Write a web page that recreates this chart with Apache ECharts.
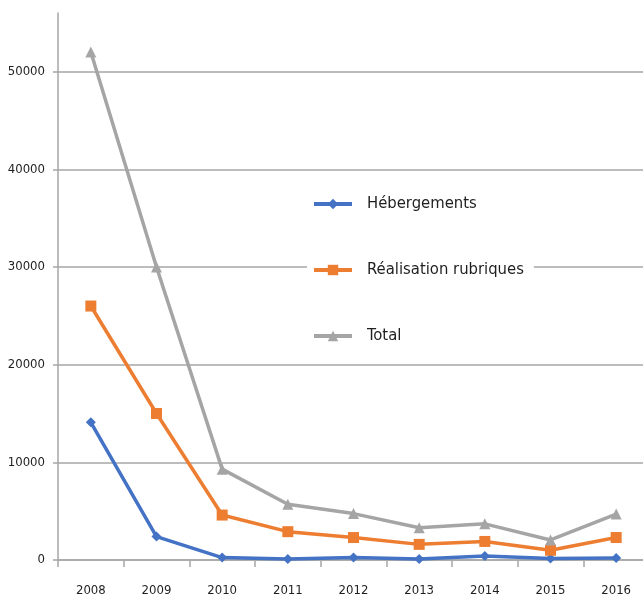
<!DOCTYPE html>
<html>
<head>
<meta charset="utf-8">
<style>
  html, body { margin: 0; padding: 0; background: #fff; }
  #chart { width: 643px; height: 599px; }
</style>
<script src="https://cdn.jsdelivr.net/npm/echarts@6/dist/echarts.min.js"></script>
</head>
<body>
<div id="chart"></div>
<script>
var years = ['2008', '2009', '2010', '2011', '2012', '2013', '2014', '2015', '2016'];
var hebergements = [14100, 2400, 250, 100, 250, 100, 400, 150, 200];
var realisation = [26000, 15000, 4600, 2900, 2300, 1600, 1900, 1000, 2300];
var total = [52000, 30000, 9300, 5700, 4750, 3300, 3700, 2050, 4700];

var font = "'DejaVu Sans Condensed', 'DejaVu Sans', sans-serif";
var ink = '#1f1f1f';
var rule = '#a6a6a6';

var chart = echarts.init(document.getElementById('chart'), null, { renderer: 'canvas' });
chart.setOption({
  animation: false,
  textStyle: { fontFamily: font },
  grid: { left: 58, right: -6, top: 13, bottom: 39, containLabel: false, outerBoundsMode: 'none' },
  legend: {
    orient: 'vertical',
    left: 307,
    top: 187,
    padding: [6, 10, 6, 5],
    backgroundColor: '#fff',
    itemWidth: 38,
    itemHeight: 13,
    itemGap: 44,
    lineStyle: { width: 4 },
    textStyle: { fontFamily: font, fontSize: 16.5, color: ink, lineHeight: 22, padding: [0, 0, 0, 10] },
    data: ['Hébergements', 'Réalisation rubriques', 'Total']
  },
  xAxis: {
    type: 'category',
    data: years,
    boundaryGap: true,
    axisLine: { lineStyle: { color: rule, width: 1.5 } },
    axisTick: { show: true, length: 7, lineStyle: { color: rule, width: 1.5 } },
    axisLabel: { color: ink, fontSize: 13, margin: 24, fontFamily: font }
  },
  yAxis: {
    type: 'value',
    min: 0,
    max: 56000,
    interval: 10000,
    axisLine: { show: true, lineStyle: { color: rule, width: 1.5 } },
    axisTick: { show: true, length: 5, lineStyle: { color: rule, width: 1.5 } },
    axisLabel: {
      color: ink, fontSize: 13, margin: 13, fontFamily: font, showMaxLabel: false,
      formatter: function(v) { return String(v); }
    },
    splitLine: { show: true, showMaxLine: false, lineStyle: { color: rule, width: 1.5 } }
  },
  series: [
    {
      name: 'Hébergements',
      type: 'line',
      data: hebergements,
      symbol: 'diamond',
      symbolSize: 10,
      color: '#4472c4',
      lineStyle: { width: 3.5 }
    },
    {
      name: 'Réalisation rubriques',
      type: 'line',
      data: realisation,
      symbol: 'rect',
      symbolSize: 11,
      color: '#ed7d31',
      lineStyle: { width: 3.5 }
    },
    {
      name: 'Total',
      type: 'line',
      data: total,
      symbol: 'triangle',
      symbolSize: 11,
      color: '#a5a5a5',
      lineStyle: { width: 3.5 }
    }
  ]
});
window.addEventListener('resize', function() { chart.resize(); });
</script>
</body>
</html>
